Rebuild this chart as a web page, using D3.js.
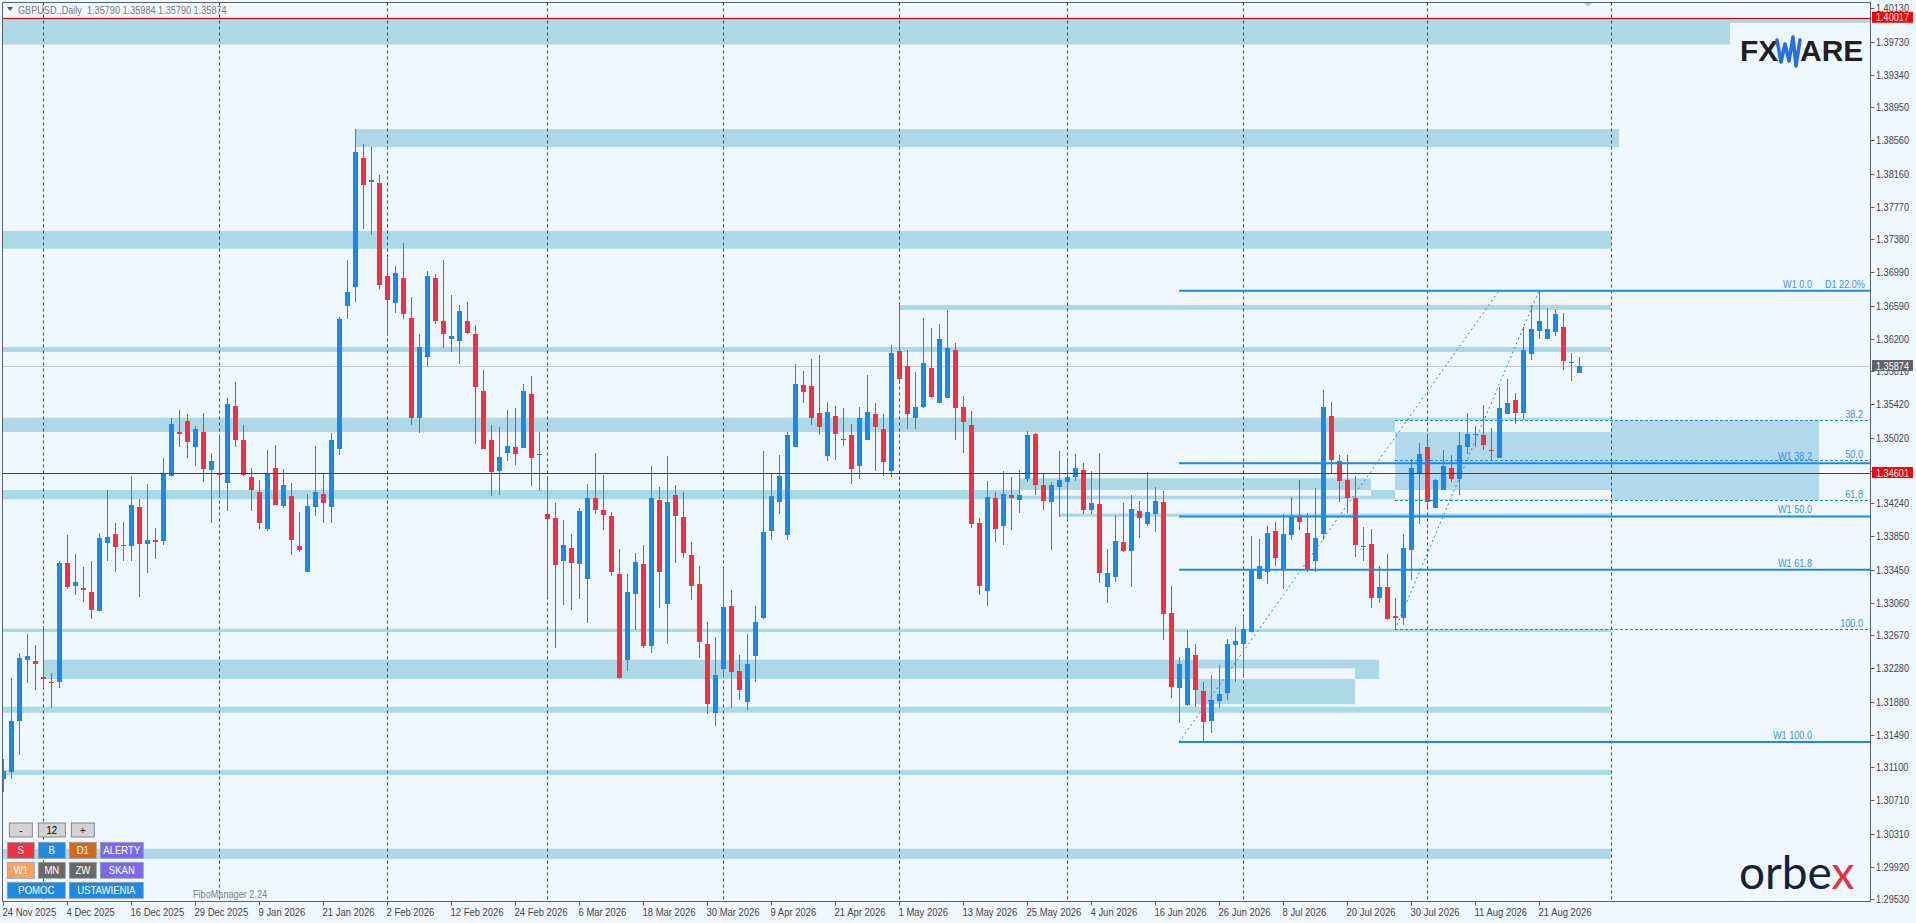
<!DOCTYPE html>
<html>
<head>
<meta charset="utf-8">
<script src="https://cdn.jsdelivr.net/npm/d3@7"></script>
<style>
html, body { margin: 0; padding: 0; background: #f0f8ff; overflow: hidden; }
text { font-family: 'Liberation Sans', Arial, sans-serif; }
</style>
</head>
<body>
<div class="chart"></div>
<script>
// GBPUSD daily bars, 24 Nov 2025 .. 28 Aug 2026
const opens = [
  1.3096,1.3105,1.3165,1.3238,1.3237,1.3218,1.3212,1.3212,1.3353,1.3326,
  1.3323,1.3319,1.3296,1.3377,1.3387,1.3374,1.3373,1.3420,1.3376,1.3380,
  1.3379,1.3456,1.3509,1.3522,1.3491,1.3509,1.3464,1.3459,1.3448,1.3540,
  1.3499,1.3455,1.3437,1.3393,1.3466,1.3421,1.3433,1.3373,1.3342,1.3420,
  1.3435,1.3420,1.3489,1.3659,1.3682,1.3835,1.3806,1.3805,1.3695,1.3662,
  1.3692,1.3645,1.3526,1.3598,1.3692,1.3641,1.3619,1.3617,1.3641,1.3625,
  1.3558,1.3499,1.3463,1.3484,1.3491,1.3490,1.3554,1.3481,1.3411,1.3407,
  1.3356,1.3371,1.3352,1.3334,1.3430,1.3416,1.3409,1.3340,1.3238,1.3316,
  1.3352,1.3254,1.3428,1.3304,1.3434,1.3408,1.3363,1.3328,1.3257,1.3175,
  1.3227,1.3302,1.3225,1.3188,1.3242,1.3288,1.3391,1.3426,1.3386,1.3491,
  1.3565,1.3564,1.3531,1.3480,1.3528,1.3501,1.3505,1.3469,1.3500,1.3530,
  1.3512,1.3462,1.3605,1.3587,1.3525,1.3539,1.3585,1.3544,1.3549,1.3607,
  1.3539,1.3517,1.3401,1.3320,1.3430,1.3397,1.3434,1.3428,1.3453,1.3507,
  1.3446,1.3426,1.3443,1.3450,1.3455,1.3464,1.3416,1.3423,1.3325,1.3337,
  1.3378,1.3367,1.3415,1.3400,1.3411,1.3426,1.3294,1.3204,1.3184,1.3244,
  1.3201,1.3165,1.3189,1.3199,1.3255,1.3257,1.3271,1.3334,1.3342,1.3391,
  1.3346,1.3386,1.3409,1.3389,1.3355,1.3387,1.3528,1.3474,1.3452,1.3430,
  1.3372,1.3376,1.3312,1.3325,1.3290,1.3288,1.3369,1.3460,1.3491,1.3419,
  1.3440,1.3466,1.3453,1.3491,1.3505,1.3505,1.3488,1.3478,1.3530,1.3547,
  1.3532,1.3602,1.3629,1.3620,1.3628,1.3634,1.3591,1.35790
];
const highs = [
  1.3120,1.3216,1.3246,1.3269,1.3256,1.3278,1.3222,1.3355,1.3386,1.3364,
  1.3348,1.3356,1.3389,1.3440,1.3401,1.3402,1.3457,1.3429,1.3447,1.3395,
  1.3478,1.3525,1.3535,1.3530,1.3516,1.3532,1.3484,1.3505,1.3549,1.3569,
  1.3517,1.3466,1.3452,1.3487,1.3494,1.3465,1.3448,1.3414,1.3435,1.3492,
  1.3460,1.3508,1.3646,1.3714,1.3870,1.3851,1.3848,1.3815,1.3716,1.3707,
  1.3734,1.3669,1.3625,1.3701,1.3697,1.3714,1.3672,1.3660,1.3663,1.3636,
  1.3583,1.3517,1.3515,1.3535,1.3538,1.3566,1.3576,1.3509,1.3457,1.3425,
  1.3404,1.3387,1.3418,1.3447,1.3484,1.3458,1.3414,1.3370,1.3340,1.3365,
  1.3374,1.3468,1.3443,1.3480,1.3446,1.3437,1.3378,1.3349,1.3283,1.3265,
  1.3350,1.3321,1.3244,1.3269,1.3302,1.3486,1.3460,1.3481,1.3509,1.3590,
  1.3581,1.3596,1.3600,1.3545,1.3540,1.3537,1.3519,1.3539,1.3577,1.3544,
  1.3530,1.3613,1.3659,1.3606,1.3580,1.3644,1.3633,1.3638,1.3654,1.3615,
  1.3552,1.3534,1.3407,1.3451,1.3438,1.3463,1.3455,1.3464,1.3510,1.3508,
  1.3459,1.3449,1.3486,1.3478,1.3483,1.3472,1.3463,1.3484,1.3370,1.3410,
  1.3424,1.3434,1.3427,1.3461,1.3443,1.3439,1.3326,1.3241,1.3273,1.3257,
  1.3211,1.3220,1.3232,1.3263,1.3277,1.3292,1.3385,1.3382,1.3397,1.3402,
  1.3411,1.3432,1.3452,1.3413,1.3442,1.3559,1.3545,1.3482,1.3482,1.3457,
  1.3396,1.3394,1.3350,1.3364,1.3312,1.3388,1.3477,1.3496,1.3507,1.3453,
  1.3487,1.3481,1.3509,1.3532,1.3516,1.3541,1.3514,1.3563,1.3572,1.3555,
  1.3634,1.3660,1.3677,1.3657,1.3655,1.3651,1.3603,1.35984
];
const lows = [
  1.3081,1.3096,1.3125,1.3210,1.3202,1.3204,1.3180,1.3204,1.3322,1.3315,
  1.3307,1.3287,1.3296,1.3355,1.3342,1.3355,1.3355,1.3313,1.3341,1.3358,
  1.3374,1.3456,1.3491,1.3478,1.3469,1.3450,1.3401,1.3433,1.3415,1.3491,
  1.3456,1.3415,1.3394,1.3391,1.3422,1.3419,1.3363,1.3366,1.3342,1.3409,
  1.3401,1.3401,1.3482,1.3643,1.3664,1.3750,1.3743,1.3679,1.3623,1.3650,
  1.3643,1.3517,1.3508,1.3586,1.3638,1.3609,1.3604,1.3590,1.3625,1.3495,
  1.3489,1.3433,1.3434,1.3475,1.3470,1.3490,1.3445,1.3439,1.3311,1.3252,
  1.3303,1.3297,1.3310,1.3282,1.3411,1.3392,1.3338,1.3216,1.3225,1.3273,
  1.3252,1.3246,1.3299,1.3257,1.3353,1.3359,1.3309,1.3240,1.3174,1.3159,
  1.3218,1.3181,1.3190,1.3178,1.3211,1.3286,1.3381,1.3411,1.3381,1.3491,
  1.3543,1.3517,1.3505,1.3475,1.3476,1.3492,1.3447,1.3453,1.3500,1.3463,
  1.3457,1.3455,1.3569,1.3512,1.3513,1.3538,1.3549,1.3544,1.3549,1.3500,
  1.3484,1.3395,1.3315,1.3302,1.3378,1.3375,1.3392,1.3413,1.3449,1.3434,
  1.3416,1.3368,1.3408,1.3404,1.3451,1.3411,1.3411,1.3329,1.3305,1.3331,
  1.3366,1.3325,1.3383,1.3397,1.3390,1.3262,1.3193,1.3163,1.3183,1.3182,
  1.3139,1.3151,1.3180,1.3190,1.3212,1.3218,1.3271,1.3334,1.3328,1.3349,
  1.3322,1.3381,1.3392,1.3342,1.3342,1.3381,1.3460,1.3426,1.3413,1.3360,
  1.3356,1.3299,1.3306,1.3285,1.3274,1.3279,1.3333,1.3400,1.3418,1.3418,
  1.3440,1.3449,1.3434,1.3483,1.3491,1.3488,1.3474,1.3478,1.3530,1.3519,
  1.3524,1.3595,1.3619,1.3619,1.3623,1.3583,1.3570,1.35790
];
const closes = [
  1.3106,1.3165,1.3240,1.3242,1.3233,1.3215,1.3210,1.3353,1.3325,1.3330,
  1.3321,1.3297,1.3383,1.3384,1.3372,1.3375,1.3422,1.3376,1.3380,1.3379,
  1.3460,1.3519,1.3506,1.3497,1.3513,1.3465,1.3474,1.3458,1.3542,1.3499,
  1.3458,1.3440,1.3401,1.3460,1.3422,1.3446,1.3381,1.3369,1.3421,1.3437,
  1.3425,1.3499,1.3643,1.3676,1.3842,1.3803,1.3809,1.3684,1.3666,1.3698,
  1.3649,1.3526,1.3610,1.3695,1.3641,1.3626,1.3623,1.3653,1.3627,1.3563,
  1.3489,1.3461,1.3479,1.3492,1.3483,1.3558,1.3478,1.3483,1.3405,1.3351,
  1.3374,1.3353,1.3415,1.3431,1.3416,1.3410,1.3342,1.3216,1.3319,1.3354,
  1.3254,1.3431,1.3342,1.3426,1.3409,1.3365,1.3326,1.3259,1.3185,1.3220,
  1.3301,1.3223,1.3202,1.3233,1.3283,1.3390,1.3433,1.3456,1.3505,1.3566,
  1.3557,1.3525,1.3515,1.3533,1.3506,1.3499,1.3465,1.3526,1.3533,1.3515,
  1.3473,1.3603,1.3572,1.3530,1.3539,1.3591,1.3551,1.3619,1.3609,1.3538,
  1.3521,1.3400,1.3326,1.3432,1.3394,1.3435,1.3431,1.3434,1.3505,1.3446,
  1.3427,1.3446,1.3452,1.3455,1.3466,1.3416,1.3424,1.3341,1.3341,1.3379,
  1.3367,1.3417,1.3407,1.3414,1.3427,1.3293,1.3206,1.3233,1.3252,1.3202,
  1.3164,1.3190,1.3197,1.3257,1.3260,1.3275,1.3345,1.3350,1.3389,1.3359,
  1.3388,1.3409,1.3402,1.3345,1.3383,1.3539,1.3476,1.3451,1.3430,1.3374,
  1.3373,1.3312,1.3324,1.3287,1.3288,1.3371,1.3466,1.3483,1.3426,1.3452,
  1.3468,1.3453,1.3493,1.3507,1.3507,1.3494,1.3486,1.3538,1.3544,1.3532,
  1.3606,1.3631,1.3641,1.3631,1.3649,1.3593,1.3592,1.35874
];

// one time label every 8 bars
const timeLabels = ["24 Nov 2025","4 Dec 2025","16 Dec 2025","29 Dec 2025","9 Jan 2026","21 Jan 2026",
  "2 Feb 2026","12 Feb 2026","24 Feb 2026","6 Mar 2026","18 Mar 2026","30 Mar 2026","9 Apr 2026",
  "21 Apr 2026","1 May 2026","13 May 2026","25 May 2026","4 Jun 2026","16 Jun 2026","26 Jun 2026",
  "8 Jul 2026","20 Jul 2026","30 Jul 2026","11 Aug 2026","21 Aug 2026"];
const priceTicks = [1.40130,1.39730,1.39340,1.38950,1.38560,1.38160,1.37770,1.37380,1.36990,1.36590,
  1.36200,1.35810,1.35420,1.35020,1.34630,1.34240,1.33850,1.33450,1.33060,1.32670,1.32280,1.31880,
  1.31490,1.31100,1.30710,1.30310,1.29920,1.29530];
// first bar of each month (period separators)
const monthStarts = [5,27,48,68,90,112,133,155,178,201];

// support / resistance zones (bar from, bar to, low, high)
const bandFrom = [-1, 44, -1, 112, -1, -1, 127, -1, 132, -1, 5, 149, -1, -1, -1];
const bandTo   = [234, 202, 201, 201, 201, 201, 171, 201, 201, 201, 172, 169, 201, 201, 201];
const bandLow  = [1.3970,1.3848,1.3727,1.3654,1.3604,1.3509,1.3433,1.3429,1.3408,1.3271,1.3215,1.3185,1.3175,1.3101,1.3001];
const bandHigh = [1.4002,1.3869,1.3748,1.3660,1.3610,1.3526,1.3454,1.3440,1.3412,1.3275,1.3238,1.3228,1.3182,1.3107,1.3013];

// fibonacci
const w1High = 1.3677, w1Low = 1.3140, w1From = 147, w1To = 187;
const d1High = 1.3677, d1Low = 1.3274, d1From = 174, d1To = 192, zoneTo = 227;
const w1Levels = [0, 38.2, 50, 61.8, 100];
const d1Levels = [38.2, 50, 61.8, 100];

const redLines = [1.40017, 1.34601];
const lastPrice = closes[closes.length - 1];

const W = 1916, H = 923;
const plotL = 2.5, plotT = 2.5, plotR = 1870.5, plotB = 901.5;
const bull = "#1e88e5", bear = "#ef3340", fibC = "#1e88e5";

let svg = d3.select(".chart").append("svg")
  .attr("width", W).attr("height", H)
  .style("display", "block");

svg.append("rect").attr("width", W).attr("height", H).attr("fill", "#f0f8ff");

const x = d3.scaleLinear().domain([0, 233]).range([3, 3 + 8 * 233]);
const y = d3.scaleLinear().domain([1.29530, 1.40130]).range([899.3, 8.3]);

svg.append("clipPath").attr("id", "plot")
  .append("rect").attr("x", plotL).attr("y", plotT)
  .attr("width", plotR - plotL).attr("height", plotB - plotT);

const g = svg.append("g").attr("clip-path", "url(#plot)");

// zones drawn in one even-odd path so overlaps cancel like in the terminal
const bandRect = i => ({ x0: x(bandFrom[i]), x1: x(bandTo[i]), y0: y(bandHigh[i]), y1: y(bandLow[i]) });
let bp = d3.path();
bandFrom.forEach((d, i) => {
  const r = bandRect(i);
  bp.rect(r.x0, r.y0, r.x1 - r.x0, r.y1 - r.y0);
});
g.append("path").attr("d", bp.toString()).attr("fill", "#add8e6").attr("fill-rule", "evenodd");

// D1 38.2-61.8 zone
const d1Price = l => d1High - (d1High - d1Low) * l / 100;
const w1Price = l => w1High - (w1High - w1Low) * l / 100;
const zTop = y(d1Price(38.2)), zBot = y(d1Price(61.8));
g.append("rect")
  .attr("x", x(d1From)).attr("y", zTop)
  .attr("width", x(zoneTo) - x(d1From)).attr("height", zBot - zTop)
  .attr("fill", "#b2d8ec");
bandFrom.forEach((d, i) => {
  const r = bandRect(i);
  const ox0 = Math.max(r.x0, x(d1From)), ox1 = Math.min(r.x1, x(zoneTo));
  const oy0 = Math.max(r.y0, zTop), oy1 = Math.min(r.y1, zBot);
  if (ox1 > ox0 && oy1 > oy0) {
    g.append("rect").attr("x", ox0).attr("y", oy0)
      .attr("width", ox1 - ox0).attr("height", oy1 - oy0)
      .attr("fill", "#eff8f5");
  }
});

// month separators
g.selectAll(".sep")
  .data(monthStarts)
  .join("line")
  .attr("x1", d => x(d) + 0.5).attr("x2", d => x(d) + 0.5)
  .attr("y1", plotT).attr("y2", plotB)
  .attr("stroke", "#3d4752").attr("stroke-dasharray", "3,3");

// current price line
g.append("line")
  .attr("x1", plotL).attr("x2", plotR)
  .attr("y1", Math.round(y(lastPrice)) + 0.5).attr("y2", Math.round(y(lastPrice)) + 0.5)
  .attr("stroke", "#c8c8c8");

// candles
const bars = d3.range(opens.length);
g.selectAll(".wick")
  .data(bars)
  .join("line")
  .attr("x1", i => x(i) + 0.5).attr("x2", i => x(i) + 0.5)
  .attr("y1", i => y(highs[i])).attr("y2", i => y(lows[i]))
  .attr("stroke", i => closes[i] >= opens[i] ? bull : bear)
  .attr("shape-rendering", "crispEdges");

g.selectAll(".body")
  .data(bars)
  .join("rect")
  .attr("x", i => x(i) - 2)
  .attr("width", 5)
  .attr("y", i => y(Math.max(opens[i], closes[i])))
  .attr("height", i => Math.max(1.2, Math.abs(y(opens[i]) - y(closes[i]))))
  .attr("fill", i => closes[i] >= opens[i] ? bull : bear)
  .attr("shape-rendering", "crispEdges");

// red horizontal levels
g.selectAll(".red")
  .data(redLines)
  .join("line")
  .attr("x1", plotL).attr("x2", plotR)
  .attr("y1", d => Math.round(y(d)) + 0.5).attr("y2", d => Math.round(y(d)) + 0.5)
  .attr("stroke", "#dd0000");

// fib trend lines
g.append("line")
  .attr("x1", x(w1From)).attr("y1", y(w1Low)).attr("x2", x(w1To)).attr("y2", y(w1High))
  .attr("stroke", fibC).attr("stroke-dasharray", "2,3");
g.append("line")
  .attr("x1", x(d1From)).attr("y1", y(d1Low)).attr("x2", x(d1To)).attr("y2", y(d1High))
  .attr("stroke", fibC).attr("stroke-dasharray", "2,3");

// W1 levels
g.selectAll(".w1")
  .data(w1Levels)
  .join("line")
  .attr("x1", x(w1From)).attr("x2", plotR)
  .attr("y1", d => y(w1Price(d))).attr("y2", d => y(w1Price(d)))
  .attr("stroke", fibC).attr("stroke-width", 2);

// D1 levels
g.selectAll(".d1")
  .data(d1Levels)
  .join("line")
  .attr("x1", x(d1From)).attr("x2", plotR)
  .attr("y1", d => Math.round(y(d1Price(d))) + 0.5).attr("y2", d => Math.round(y(d1Price(d))) + 0.5)
  .attr("stroke", fibC).attr("stroke-dasharray", "3,2");

// fib labels
const fibText = "#3a8ee8";
svg.selectAll(".w1lab")
  .data(w1Levels)
  .join("text")
  .attr("class", "mt")
  .attr("x", 1812).attr("y", d => y(w1Price(d)) - 3)
  .attr("text-anchor", "end").attr("font-size", 11).attr("fill", fibText)
  .text(d => "W1 " + d.toFixed(1));
svg.selectAll(".d1lab")
  .data(d1Levels)
  .join("text")
  .attr("class", "mt")
  .attr("x", 1863).attr("y", d => y(d1Price(d)) - 2)
  .attr("text-anchor", "end").attr("font-size", 11).attr("fill", fibText)
  .text(d => d.toFixed(1));
svg.append("text")
  .attr("class", "mt")
  .attr("x", 1865).attr("y", y(w1Price(0)) - 3)
  .attr("text-anchor", "end").attr("font-size", 11).attr("fill", fibText)
  .text("D1 22.0%");

// frame
const frame = "#566070";
svg.append("line").attr("x1", plotL).attr("x2", plotR).attr("y1", plotT).attr("y2", plotT).attr("stroke", frame);
svg.append("line").attr("x1", plotL).attr("x2", plotL).attr("y1", plotT).attr("y2", plotB).attr("stroke", frame);
svg.append("line").attr("x1", plotR).attr("x2", plotR).attr("y1", plotT).attr("y2", plotB).attr("stroke", frame);
svg.append("line").attr("x1", plotL).attr("x2", plotR).attr("y1", plotB).attr("y2", plotB).attr("stroke", frame);

// price axis (labels hidden behind the price boxes are left out)
const boxes = [
  { v: redLines[0], c: "#ff0000" },
  { v: lastPrice, c: "#5f6368" },
  { v: redLines[1], c: "#ff0000" }
];
const shownTicks = priceTicks.filter(t => !boxes.some(b => Math.abs(y(b.v) - y(t)) < 5));
svg.selectAll(".ptick")
  .data(priceTicks)
  .join("line")
  .attr("x1", plotR).attr("x2", plotR + 4)
  .attr("y1", d => Math.round(y(d)) + 0.5).attr("y2", d => Math.round(y(d)) + 0.5)
  .attr("stroke", frame);
svg.selectAll(".plab")
  .data(shownTicks)
  .join("text")
  .attr("class", "mt")
  .attr("x", 1876).attr("y", d => y(d) + 4)
  .attr("font-size", 11).attr("fill", "#444")
  .text(d => d.toFixed(5));

// time axis
const tickBars = timeLabels.map((d, i) => i * 8);
svg.selectAll(".ttick")
  .data(tickBars)
  .join("line")
  .attr("x1", d => x(d) + 0.5).attr("x2", d => x(d) + 0.5)
  .attr("y1", plotB).attr("y2", plotB + 4)
  .attr("stroke", frame);
svg.selectAll(".tlab")
  .data(timeLabels)
  .join("text")
  .attr("class", "mt tl")
  .attr("x", (d, i) => x(tickBars[i]) - 0.5).attr("y", 915.5)
  .attr("font-size", 11).attr("fill", "#444")
  .text(d => d);

// price boxes
svg.selectAll(".pbox")
  .data(boxes)
  .join("rect")
  .attr("x", 1872).attr("y", d => y(d.v) - 6)
  .attr("width", 41).attr("height", 11)
  .attr("fill", d => d.c);
svg.selectAll(".pboxt")
  .data(boxes)
  .join("text")
  .attr("class", "mt")
  .attr("x", 1876).attr("y", d => y(d.v) + 3.5)
  .attr("font-size", 11).attr("fill", "#fff")
  .text(d => d.v.toFixed(5));

// header
svg.append("path").attr("d", "M7,7 L13,7 L10,11 Z").attr("fill", "#555");
const n = opens.length - 1;
svg.append("text")
  .attr("class", "mt")
  .attr("x", 18).attr("y", 14)
  .attr("font-size", 11).attr("fill", "#7a7a7a")
  .attr("xml:space", "preserve")
  .text("GBPUSD.,Daily  " + [opens[n], highs[n], lows[n], closes[n]].map(v => v.toFixed(5)).join(" "));
svg.append("path").attr("d", "M1584,3 L1592,3 L1588,7 Z").attr("fill", "#c8c8c8");

// FXWARE logo
svg.append("rect").attr("x", 1730).attr("y", 23).attr("width", plotR - 1730 - 0.5).attr("height", 52).attr("fill", "#f0f8ff");
svg.append("text").attr("x", 1740).attr("y", 61)
  .attr("font-weight", "bold").attr("font-size", 30).attr("fill", "#231f20").text("FX");
svg.append("text").attr("x", 1800).attr("y", 61)
  .attr("font-weight", "bold").attr("font-size", 30).attr("fill", "#231f20").text("ARE");
svg.append("path")
  .attr("d", "M1777,40 L1781,62 L1785,44 L1789,61 L1793,37 L1796,66 L1800,40")
  .attr("fill", "none").attr("stroke", "#1f6fe6").attr("stroke-width", 3.5)
  .attr("stroke-linejoin", "round").attr("stroke-linecap", "round");

// orbex logo
const orb = svg.append("text").attr("x", 1739).attr("y", 889)
  .style("font-family", "Lato, 'Open Sans', sans-serif")
  .attr("font-weight", 400).attr("font-size", 46).attr("fill", "#14213d");
orb.append("tspan").text("orbe");
orb.append("tspan").attr("fill", "#e8323c").text("x");

// panel buttons
const buttons = [
  { t: "-", x: 9.3, y: 823, w: 23, h: 14, c: "#d3d3d3", tc: "#000" },
  { t: "12", x: 38.3, y: 823, w: 27, h: 14, c: "#d3d3d3", tc: "#000" },
  { t: "+", x: 71.3, y: 823, w: 23, h: 14, c: "#d3d3d3", tc: "#000" },
  { t: "S", x: 7.3, y: 842.3, w: 27, h: 16, c: "#ee3344", tc: "#fff" },
  { t: "B", x: 38.3, y: 842.3, w: 27, h: 16, c: "#1e88e5", tc: "#fff" },
  { t: "D1", x: 69.3, y: 842.3, w: 27, h: 16, c: "#d2691e", tc: "#fff" },
  { t: "ALERTY", x: 100.3, y: 842.3, w: 43, h: 16, c: "#7b68ee", tc: "#fff" },
  { t: "W1", x: 7.3, y: 862.3, w: 27, h: 16, c: "#f4a460", tc: "#fff" },
  { t: "MN", x: 38.3, y: 862.3, w: 27, h: 16, c: "#696969", tc: "#fff" },
  { t: "ZW", x: 69.3, y: 862.3, w: 27, h: 16, c: "#696969", tc: "#fff" },
  { t: "SKAN", x: 100.3, y: 862.3, w: 43, h: 16, c: "#7b68ee", tc: "#fff" },
  { t: "POMOC", x: 7.3, y: 882.3, w: 58, h: 16, c: "#1e88e5", tc: "#fff" },
  { t: "USTAWIENIA", x: 69.3, y: 882.3, w: 74, h: 16, c: "#1e88e5", tc: "#fff" }
];
svg.selectAll(".btn")
  .data(buttons)
  .join("rect")
  .attr("x", d => d.x).attr("y", d => d.y)
  .attr("width", d => d.w).attr("height", d => d.h)
  .attr("fill", d => d.c)
  .attr("stroke", d => d.tc === "#000" ? "#707070" : "#9aa0a6").attr("stroke-width", 0.8);
svg.selectAll(".btnt")
  .data(buttons)
  .join("text")
  .attr("class", "mt")
  .attr("x", d => d.x + d.w / 2).attr("y", d => d.y + d.h / 2 + 4)
  .attr("text-anchor", "middle").attr("font-size", 11.5)
  .attr("fill", d => d.tc)
  .text(d => d.t);

svg.append("text").attr("class", "mt").attr("x", 193).attr("y", 898)
  .attr("font-size", 11).attr("fill", "#808080").text("FiboManager 2.24");

// terminal font is narrow: squeeze the sans text horizontally
svg.selectAll("text.mt").each(function () {
  const k = this.classList.contains("tl") ? 0.86 : 0.83;
  const len = this.getComputedTextLength();
  d3.select(this).attr("textLength", len * k).attr("lengthAdjust", "spacingAndGlyphs");
});
</script>
</body>
</html>
